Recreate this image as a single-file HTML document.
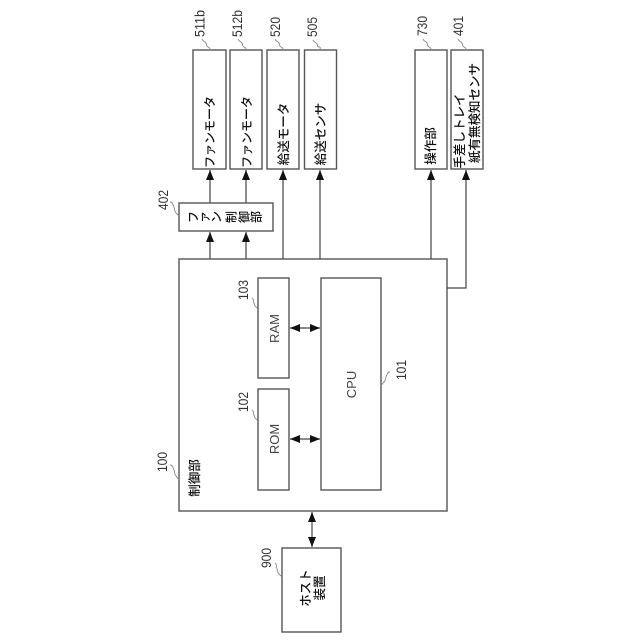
<!DOCTYPE html>
<html><head><meta charset="utf-8"><style>
html,body{margin:0;padding:0;background:#fff}
svg{display:block}
text{font-family:"Liberation Sans","Noto Sans CJK JP",sans-serif;fill:#222}
.j{font-size:12.5px;font-weight:500;fill:#111;text-anchor:middle}
.k{font-size:12px;font-weight:500;fill:#111;text-anchor:middle}
.n{font-size:14px;fill:#333}
.l{font-size:13px;fill:#444;text-anchor:middle}
rect{fill:#fff;stroke:#555;stroke-width:1.4}
.c{fill:none;stroke:#444;stroke-width:1.2}
.s{fill:none;stroke:#888;stroke-width:.9}
</style></head><body>
<svg width="640" height="640" viewBox="0 0 640 640" xmlns="http://www.w3.org/2000/svg">
<defs>
<marker id="a" markerWidth="11" markerHeight="9" refX="10" refY="4" orient="auto-start-reverse" markerUnits="userSpaceOnUse"><path d="M0 0L10 4L0 8Z" fill="#111"/></marker>
</defs>
<rect x="193" y="50" width="33" height="119"/>
<rect x="230" y="50" width="32" height="119"/>
<rect x="267" y="50" width="32" height="119"/>
<rect x="304.500" y="50" width="32" height="119"/>
<rect x="415" y="50" width="32" height="119"/>
<rect x="451" y="50" width="32" height="119"/>
<rect x="179" y="203" width="94" height="28"/>
<rect x="179" y="259" width="268" height="252"/>
<rect x="258" y="278" width="31" height="100"/>
<rect x="258" y="389" width="31" height="101"/>
<rect x="321" y="278" width="60" height="212"/>
<rect x="282" y="548" width="59" height="84"/>

<path class="c" d="M210 203V170" marker-end="url(#a)"/>
<path class="c" d="M246 203V170" marker-end="url(#a)"/>
<path class="c" d="M210 259V232" marker-end="url(#a)"/>
<path class="c" d="M246 259V232" marker-end="url(#a)"/>
<path class="c" d="M283 259V170" marker-end="url(#a)"/>
<path class="c" d="M320 259V170" marker-end="url(#a)"/>
<path class="c" d="M431 259V170" marker-end="url(#a)"/>
<path class="c" d="M447 288H466V170" marker-end="url(#a)"/>
<path class="c" d="M290 328H320" marker-start="url(#a)" marker-end="url(#a)"/>
<path class="c" d="M290 439H320" marker-start="url(#a)" marker-end="url(#a)"/>
<path class="c" d="M312 512V547" marker-start="url(#a)" marker-end="url(#a)"/>

<path class="s" d="M202 39c1 3 3 2 4 4s0 3 2 4 2 1 2 3"/>
<path class="s" d="M238 39c1 3 3 2 4 4s0 3 2 4 2 1 2 3"/>
<path class="s" d="M275 39c1 3 3 2 4 4s0 3 2 4 2 1 2 3"/>
<path class="s" d="M313 40c1 3 3 2 4 4s0 3 2 3 1 1 1 3"/>
<path class="s" d="M423 39c1 3 3 2 4 4s0 3 2 4 2 1 2 3"/>
<path class="s" d="M458 39c1 3 3 2 4 4s0 3 2 4 2 1 2 3"/>
<path class="s" d="M170 202c3 0 3 3 4 5s0 4 2 6 2 2 3 3"/>
<path class="s" d="M170 465c3 0 3 3 4 5s0 4 2 6 2 3 3 4"/>
<path class="s" d="M252 298c2 1 1 3 2 5s0 3 2 4 1 2 2 2"/>
<path class="s" d="M252 410c2 1 1 3 2 5s0 3 2 4 1 2 2 2"/>
<path class="s" d="M390 372c-3 0-3 3-4 5s0 3-2 5-2 3-3 3"/>
<path class="s" d="M275 563c2 1 1 3 2 6s0 3 2 5 2 2 3 3"/>

<text class="n" textLength="27" lengthAdjust="spacingAndGlyphs" transform="translate(204.500,37) rotate(-90)">511b</text>
<text class="n" textLength="27" lengthAdjust="spacingAndGlyphs" transform="translate(242,37) rotate(-90)">512b</text>
<text class="n" textLength="20" lengthAdjust="spacingAndGlyphs" transform="translate(280,37) rotate(-90)">520</text>
<text class="n" textLength="20" lengthAdjust="spacingAndGlyphs" transform="translate(317,37) rotate(-90)">505</text>
<text class="n" textLength="20" lengthAdjust="spacingAndGlyphs" transform="translate(427,36) rotate(-90)">730</text>
<text class="n" textLength="20" lengthAdjust="spacingAndGlyphs" transform="translate(463,36) rotate(-90)">401</text>
<text class="n" textLength="20" lengthAdjust="spacingAndGlyphs" transform="translate(168,210) rotate(-90)">402</text>
<text class="n" textLength="20" lengthAdjust="spacingAndGlyphs" transform="translate(167,472) rotate(-90)">100</text>
<text class="n" textLength="20" lengthAdjust="spacingAndGlyphs" transform="translate(248,300) rotate(-90)">103</text>
<text class="n" textLength="20" lengthAdjust="spacingAndGlyphs" transform="translate(248,412) rotate(-90)">102</text>
<text class="n" textLength="20" lengthAdjust="spacingAndGlyphs" transform="translate(406,380) rotate(-90)">101</text>
<text class="n" textLength="20" lengthAdjust="spacingAndGlyphs" transform="translate(271,568) rotate(-90)">900</text>

<text class="l" transform="translate(279,328.500) rotate(-90)">RAM</text>
<text class="l" transform="translate(279,439) rotate(-90)">ROM</text>
<text class="l" transform="translate(356,384.500) rotate(-90)">CPU</text>

<text class="k" transform="translate(214,132) rotate(-90)">ファンモータ</text>
<text class="k" transform="translate(251,132) rotate(-90)">ファンモータ</text>
<text class="j" transform="translate(288,134) rotate(-90)">給送モータ</text>
<text class="j" transform="translate(325,134) rotate(-90)">給送センサ</text>
<text class="j" transform="translate(435,146) rotate(-90)">操作部</text>
<text class="j" transform="translate(463.800,131) rotate(-90)">手差しトレイ</text>
<text class="j" transform="translate(478.800,113) rotate(-90)">紙有無検知センサ</text>
<text class="k" transform="translate(197.500,217) rotate(-90)">フ</text>
<text class="k" transform="translate(208.500,217) rotate(-90)">ァ</text>
<text class="k" transform="translate(220.500,217) rotate(-90)">ン</text>
<text class="k" transform="translate(235.500,217) rotate(-90)">制</text>
<text class="k" transform="translate(248.500,217) rotate(-90)">御</text>
<text class="k" transform="translate(260.500,217) rotate(-90)">部</text>
<text class="j" transform="translate(199,478) rotate(-90)">制御部</text>
<text class="j" transform="translate(310,588) rotate(-90)">ホスト</text>
<text class="j" transform="translate(324,588) rotate(-90)">装置</text>
</svg>
</body></html>
